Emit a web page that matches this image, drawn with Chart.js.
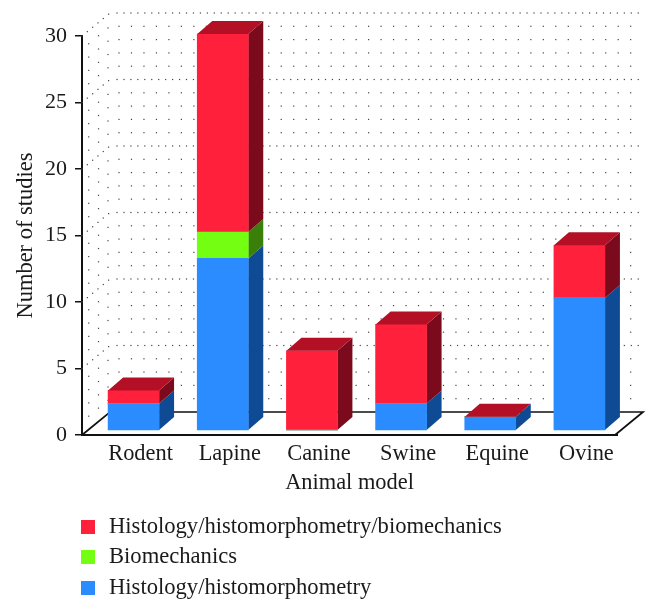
<!DOCTYPE html>
<html>
<head>
<meta charset="utf-8">
<style>
  html, body { margin: 0; padding: 0; background: #fff; }
  canvas { display: block; }
</style>
</head>
<body>
<canvas id="myChart" width="658" height="613"></canvas>
<script src="https://cdn.jsdelivr.net/npm/chart.js@4/dist/chart.umd.min.js"></script>
<script>
const categories = ["Rodent", "Lapine", "Canine", "Swine", "Equine", "Ovine"];
const histology = [2, 13, 0, 2, 1, 10];
const biomechanics = [0, 2, 0, 0, 0, 0];
const histologyBiomech = [1, 15, 6, 6, 0, 4];

const fontFamily = "'Liberation Serif', serif";
const textColor = "#1a1a1a";

// 3D look: depth of the bars and of the floor/walls, in pixels
const barDepth = { x: 15, y: 13 };
const wallDepth = { x: 28, y: 23 };
const barShift = 7;

const faces = [
  { front: "#2a8cff", side: "#0e4b94" },
  { front: "#74ff12", side: "#3a7f08" },
  { front: "#ff203c", side: "#7a0a1c", top: "#b31026" },
];

function quad(ctx, pts, color) {
  ctx.fillStyle = color;
  ctx.beginPath();
  pts.forEach((p, i) => (i ? ctx.lineTo(p[0], p[1]) : ctx.moveTo(p[0], p[1])));
  ctx.closePath();
  ctx.fill();
}

function dot(ctx, x, y) {
  ctx.fillRect(x - 0.6, y - 0.6, 1.2, 1.2);
}

// floor and dotted walls behind the bars
const wallsPlugin = {
  id: "walls",
  beforeDatasetsDraw(chart) {
    const { ctx, chartArea } = chart;
    const y = chart.scales.y;
    const left = chartArea.left;
    const right = chartArea.right - 2;
    const back = wallDepth;
    ctx.save();

    ctx.strokeStyle = "#111";
    ctx.lineWidth = 1.7;
    ctx.beginPath();
    ctx.moveTo(left, y.getPixelForValue(0));
    ctx.lineTo(left + back.x, y.getPixelForValue(0) - back.y);
    ctx.lineTo(right + back.x, y.getPixelForValue(0) - back.y);
    ctx.lineTo(right, y.getPixelForValue(0));
    ctx.stroke();

    ctx.fillStyle = "#444";
    for (let v = 1; v <= 30; v++) {
      const py = y.getPixelForValue(v);
      if (v % 5 === 0) {
        for (let px = left + 35; px <= right + back.x; px += 6.95) dot(ctx, px, py - back.y);
        for (let f = 0; f < 1; f += 0.19) dot(ctx, left + back.x * f, py - back.y * f);
      } else {
        for (let px = left + 37; px <= right + back.x; px += 12.48) dot(ctx, px, py - back.y);
        [0.24, 0.59, 0.93].forEach((f) => dot(ctx, left + back.x * f, py - back.y * f));
      }
    }
    ctx.restore();

    // bars sit a little in front of the back wall, shifted right
    ctx.save();
    ctx.translate(barShift, 0);
    chart.data.datasets.forEach((ds, i) => {
      chart.getDatasetMeta(i).data.forEach((bar) => {
        const r = bar.x + bar.width / 2;
        quad(ctx, [
          [r, bar.y],
          [r + barDepth.x, bar.y - barDepth.y],
          [r + barDepth.x, bar.base - barDepth.y],
          [r, bar.base],
        ], faces[i].side);
      });
    });
  },
  afterDatasetsDraw(chart) {
    const { ctx } = chart;
    const last = chart.data.datasets.length - 1;
    chart.getDatasetMeta(last).data.forEach((bar) => {
      const l = bar.x - bar.width / 2;
      const r = bar.x + bar.width / 2;
      quad(ctx, [
        [l, bar.y],
        [l + barDepth.x, bar.y - barDepth.y],
        [r + barDepth.x, bar.y - barDepth.y],
        [r, bar.y],
      ], faces[last].top);
    });
    ctx.restore();
  },
};

// stacked vertical legend under the axis title, red first
const legendPlugin = {
  id: "stackLegend",
  afterDraw(chart) {
    const { ctx } = chart;
    const items = chart.data.datasets.slice().reverse();
    const rows = [527, 557, 588];
    ctx.save();
    ctx.font = "22.6px " + fontFamily;
    ctx.textBaseline = "middle";
    items.forEach((ds, i) => {
      ctx.fillStyle = ds.backgroundColor;
      ctx.fillRect(81, rows[i] - 7, 14, 14);
      ctx.fillStyle = textColor;
      ctx.fillText(ds.label, 109, rows[i]);
    });
    ctx.restore();
  },
};

const ctx = document.getElementById("myChart").getContext("2d");

new Chart(ctx, {
  type: "bar",
  data: {
    labels: categories,
    datasets: [
      { label: "Histology/histomorphometry", data: histology, backgroundColor: faces[0].front },
      { label: "Biomechanics", data: biomechanics, backgroundColor: faces[1].front },
      { label: "Histology/histomorphometry/biomechanics", data: histologyBiomech, backgroundColor: faces[2].front },
    ].map((ds) => ({ ...ds, yAxisID: "yBars", barThickness: 51, clip: false })),
  },
  options: {
    responsive: false,
    animation: false,
    layout: { padding: { top: 36, right: 41, bottom: 115, left: 0 } },
    plugins: {
      legend: { display: false },
      tooltip: { enabled: false },
    },
    scales: {
      x: {
        stacked: true,
        afterFit(scale) { scale.height = 63; },
        grid: { display: false },
        border: { color: "#111", width: 2 },
        ticks: {
          color: textColor,
          font: { family: fontFamily, size: 22.4 },
          labelOffset: 14,
          padding: -2,
          maxRotation: 0,
        },
        title: {
          display: true,
          text: "Animal model",
          color: textColor,
          font: { family: fontFamily, size: 22.4 },
          padding: { top: 0, bottom: 1 },
        },
      },
      y: {
        min: 0,
        max: 30,
        afterFit(scale) { scale.width = 82; },
        grid: { drawOnChartArea: false, color: "#111", tickLength: 7, lineWidth: 1.5 },
        border: { color: "#111", width: 2 },
        ticks: {
          stepSize: 5,
          color: textColor,
          font: { family: fontFamily, size: 22 },
          padding: 8,
        },
        title: {
          display: true,
          text: "Number of studies",
          color: textColor,
          font: { family: fontFamily, size: 22.5 },
          padding: { top: 13, bottom: 0 },
        },
      },
      // bars use their own slightly smaller hidden scale, floating above the floor
      yBars: {
        display: false,
        stacked: true,
        min: -0.379,
        max: 29.85,
      },
    },
  },
  plugins: [wallsPlugin, legendPlugin],
});
</script>
</body>
</html>
